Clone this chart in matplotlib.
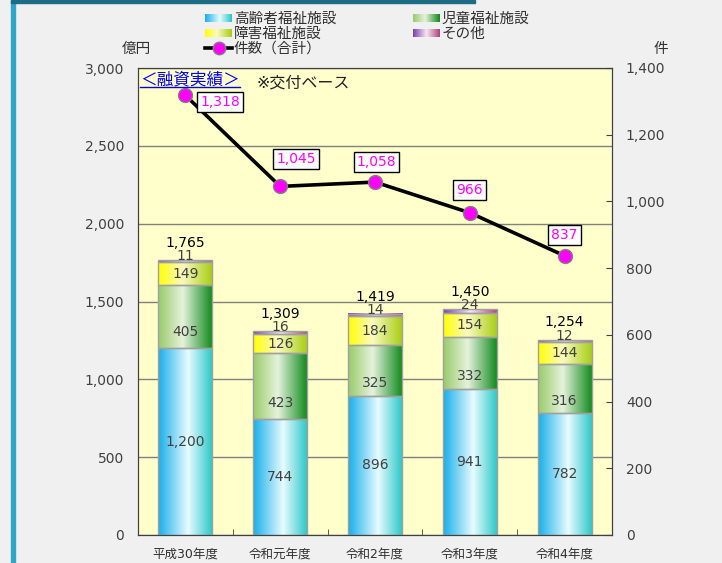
import numpy as np
import matplotlib
matplotlib.use('Agg')
import matplotlib.pyplot as plt
from matplotlib.colors import LinearSegmentedColormap
from matplotlib.lines import Line2D
from matplotlib.patches import Rectangle

plt.rcParams['font.family'] = ['DejaVu Sans', 'Noto Sans CJK JP']

# data
years = ['平成30年度', '令和元年度', '令和2年度', '令和3年度', '令和4年度']
elderly = [1200, 744, 896, 941, 782]     # 高齢者福祉施設
children = [405, 423, 325, 332, 316]     # 児童福祉施設
disabled = [149, 126, 184, 154, 144]     # 障害福祉施設
other = [11, 16, 14, 24, 12]             # その他
totals = [1765, 1309, 1419, 1450, 1254]
counts = [1318, 1045, 1058, 966, 837]    # 件数（合計）

series_names = ['高齢者福祉施設', '児童福祉施設', '障害福祉施設', 'その他']

# gradient colour maps for the bars
cmaps = [
    LinearSegmentedColormap.from_list('blue', [(0, '#16aeea'), (0.55, '#e8fbff'), (1, '#28c6c6')]),
    LinearSegmentedColormap.from_list('green', [(0, '#98ca68'), (0.45, '#e6f2dc'), (1, '#0c8818')]),
    LinearSegmentedColormap.from_list('yellow', [(0, '#ffff00'), (0.45, '#fafac0'), (1, '#a6cc10')]),
    LinearSegmentedColormap.from_list('purple', [(0, '#7a3cb0'), (0.5, '#f4e8f0'), (1, '#b04078')]),
]
grad = np.linspace(0, 1, 256).reshape(1, -1)

W, H = 722, 563
fig = plt.figure(figsize=(W / 100, H / 100), dpi=100)
fig.patch.set_facecolor('#f0f0f0')

ax = fig.add_axes([138 / W, 1 - 535 / H, 474 / W, 467 / H])
ax.set_facecolor('#ffffcc')
x = np.arange(len(years))

bottom = np.zeros(len(years))
bar_w = 0.57
for vals, cm in zip([elderly, children, disabled, other], cmaps):
    bars = ax.bar(x, vals, bar_w, bottom=bottom, facecolor='none',
                  edgecolor='#a0a0a0', linewidth=1, zorder=3)
    for r in bars:
        x0, y0 = r.get_x(), r.get_y()
        ax.imshow(grad, cmap=cm, extent=[x0, x0 + r.get_width(), y0, y0 + r.get_height()],
                  aspect='auto', zorder=2, interpolation='bilinear')
    bottom += np.array(vals)

ax.set_xlim(-0.5, 4.5)
ax.set_ylim(0, 3000)

# segment labels
lab_kw = dict(ha='center', va='center', fontsize=10, color='#404040', zorder=5)
for i in range(len(years)):
    ax.text(i, elderly[i] / 2, f'{elderly[i]:,}', **lab_kw)
    ax.text(i, elderly[i] + children[i] * 0.25, f'{children[i]:,}', **lab_kw)
    b = elderly[i] + children[i]
    ax.text(i, b + disabled[i] / 2, f'{disabled[i]:,}', **lab_kw)
    top = b + disabled[i] + other[i]
    ax.annotate(f'{other[i]:,}', (i, top), xytext=(0, 3), textcoords='offset points', **lab_kw)
    ax.annotate(f'{totals[i]:,}', (i, top), xytext=(0, 12.5), textcoords='offset points',
                ha='center', va='center', fontsize=10, color='black', zorder=5)

ax.set_yticks(range(0, 3001, 500))
ax.set_yticklabels([f'{v:,}' for v in range(0, 3001, 500)], fontsize=10, color='#404040')
ax.yaxis.grid(True, color='#808080', linewidth=1)
ax.set_axisbelow(True)
ax.tick_params(axis='y', length=0, pad=10)
ax.set_xticks(x)
ax.set_xticklabels(years, fontsize=9, color='#303030')
ax.set_xticks(x[:-1] + 0.5, minor=True)
ax.tick_params(axis='x', which='major', length=0, pad=9)
ax.tick_params(axis='x', which='minor', direction='in', length=4, color='#404040')
for s in ax.spines.values():
    s.set_color('#404040')

# line on secondary axis
ax2 = ax.twinx()
ax2.patch.set_visible(False)
ax2.plot(x, counts, color='black', linewidth=2.6, marker='o', markersize=10,
         markerfacecolor='#ff00ff', markeredgecolor='#808080', markeredgewidth=1, zorder=6)
ax2.set_ylim(0, 1400)
ax2.set_yticks(range(0, 1401, 200))
ax2.set_yticklabels([f'{v:,}' for v in range(0, 1401, 200)], fontsize=10, color='#404040')
ax2.tick_params(axis='y', direction='in', length=4, pad=10, color='#404040')
for s in ax2.spines.values():
    s.set_color('#404040')

offsets = [(25, -5), (11.5, 20), (1, 14.5), (0, 16.5), (0, 15)]
for i, v in enumerate(counts):
    ax2.annotate(f'{v:,}', (i, v), xytext=offsets[i], textcoords='offset points',
                 ha='center', va='center', fontsize=10, color='#ff00ff', zorder=7,
                 bbox=dict(boxstyle='square,pad=0.22', fc='white', ec='black', lw=1))

# texts inside plot area
t1 = fig.text(140 / W, 1 - 79 / H, '＜融資実績＞', fontsize=12, color='#0000ee', va='center')
fig.text(257 / W, 1 - 83 / H, '※交付ベース', fontsize=11.5, color='#202020', va='center')

# axis unit labels
fig.text(136 / W, 1 - 48 / H, '億円', fontsize=10.5, ha='center', va='center', color='#303030')
fig.text(661 / W, 1 - 48 / H, '件', fontsize=10.5, ha='center', va='center', color='#303030')

# manual legend
leg_pos = [(205, 18), (413, 18), (205, 33), (413, 33)]
for (lx, ly), cm, name in zip(leg_pos, cmaps, series_names):
    lax = fig.add_axes([lx / W, 1 - (ly + 4) / H, 27 / W, 8 / H])
    lax.imshow(grad, cmap=cm, aspect='auto', interpolation='bilinear')
    lax.axis('off')
    fig.text((lx + 29) / W, 1 - ly / H, name, fontsize=10.5, va='center', color='#303030')
fig.add_artist(Line2D([205 / W, 218.5 / W, 232 / W], [1 - 48 / H] * 3, transform=fig.transFigure,
                      color='black', linewidth=2.6, marker='o', markevery=[1], markersize=9,
                      markerfacecolor='#ff00ff', markeredgecolor='#808080'))
fig.text(234 / W, 1 - 48 / H, '件数（合計）', fontsize=10.5, va='center', color='#303030')

# frame decoration
fig.add_artist(Rectangle((11 / W, 0), 4 / W, 1, transform=fig.transFigure,
                         color='#2ea6c6', zorder=0))
fig.add_artist(Rectangle((11 / W, 1 - 3 / H), 464 / W, 3 / H, transform=fig.transFigure,
                         color='#1d6b85', zorder=0))

# underline for the blue title
fig.canvas.draw()
bb = t1.get_window_extent().transformed(fig.transFigure.inverted())
fig.add_artist(Line2D([bb.x0, bb.x1], [bb.y0 + 1 / H] * 2, transform=fig.transFigure,
                      color='#0000ee', linewidth=1))

fig.savefig('out.png', dpi=100, facecolor=fig.get_facecolor())
